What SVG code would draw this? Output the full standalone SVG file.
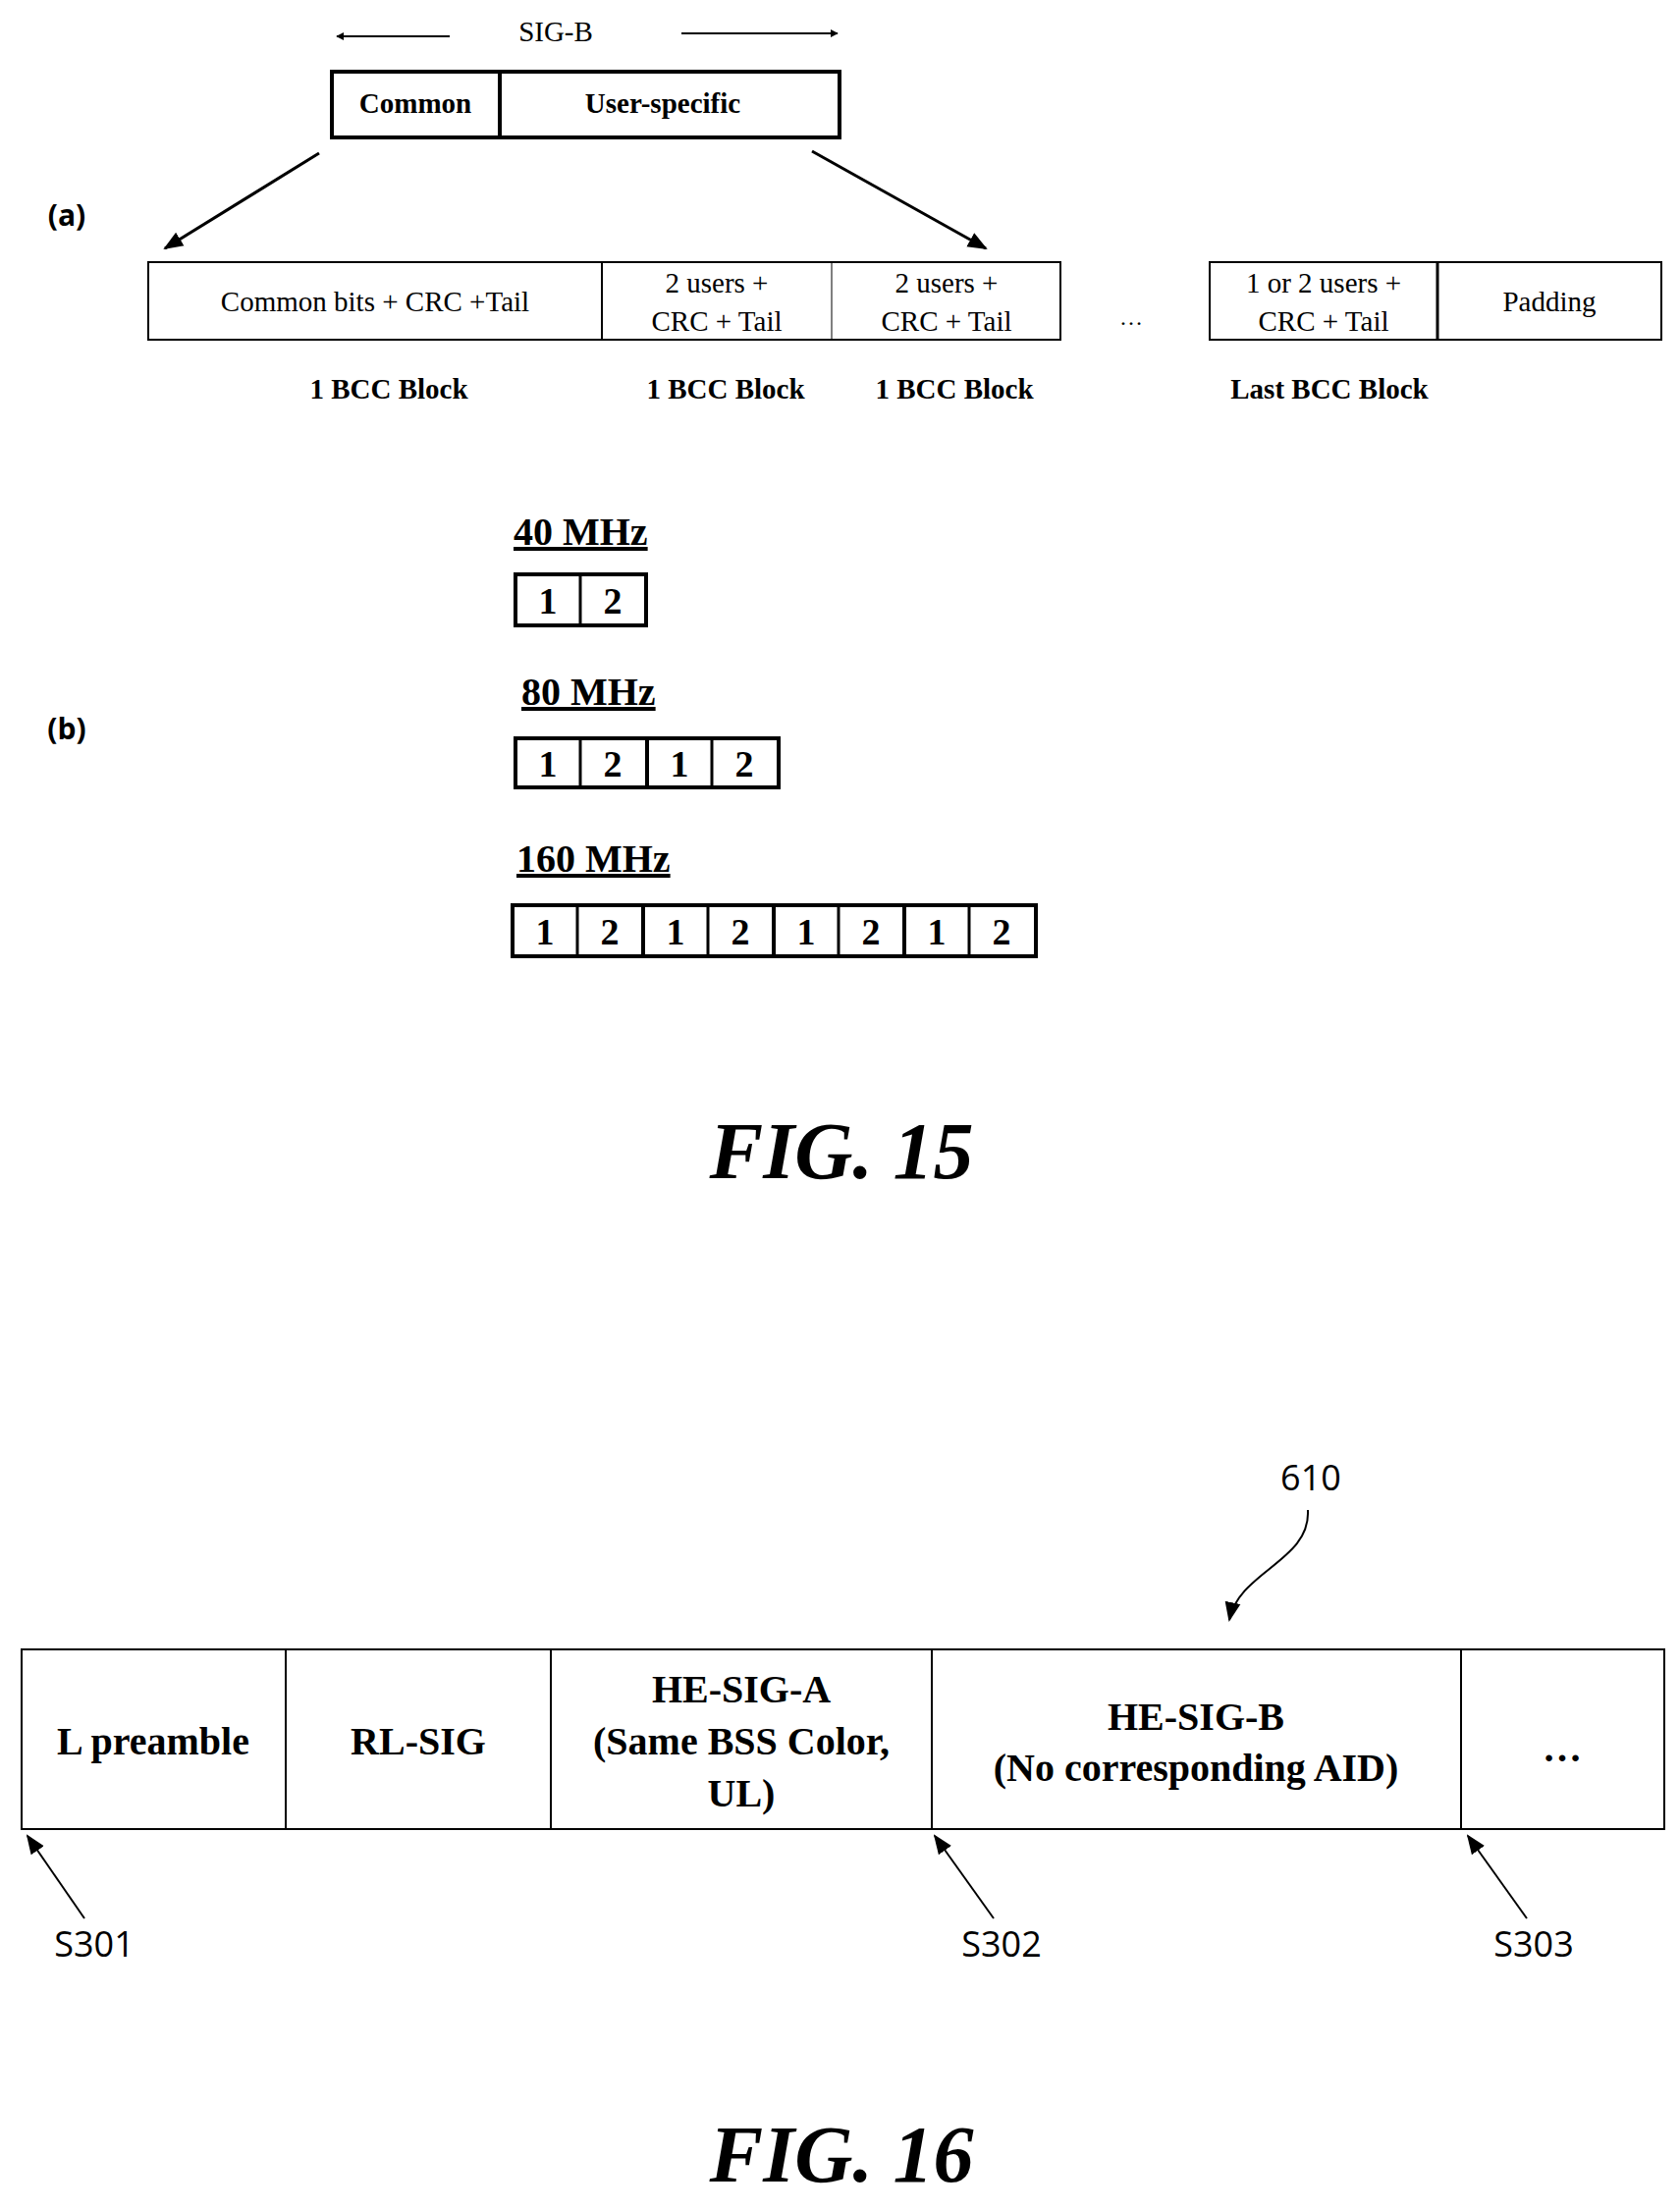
<svg xmlns="http://www.w3.org/2000/svg" width="1711" height="2251" viewBox="0 0 1711 2251">
<style>
.s{font-family:"Liberation Serif",serif;fill:#000}
.b{font-weight:bold}
.sa{font-family:"Open Sans","Liberation Sans",sans-serif;fill:#000}
rect{fill:#fff;stroke:#000}
.ln{stroke:#000;fill:none}
</style>
<defs>
<marker id="ah" viewBox="0 0 10 10" refX="9" refY="5" markerWidth="8" markerHeight="8" orient="auto" markerUnits="userSpaceOnUse"><path d="M0,0 L10,5 L0,10 z" fill="#000"/></marker>
<marker id="ah2" viewBox="0 0 10 10" refX="9" refY="5" markerWidth="20" markerHeight="20" orient="auto" markerUnits="userSpaceOnUse"><path d="M0,1 L10,5 L0,9 z" fill="#000"/></marker>
</defs>
<rect x="0" y="0" width="1711" height="2251" style="stroke:none"/>
<text class="s" x="566" y="42" font-size="29" text-anchor="middle">SIG-B</text>
<g id="connectors">
<line class="ln" x1="458" y1="37" x2="343" y2="37" stroke-width="2" marker-end="url(#ah)"/>
<line class="ln" x1="694" y1="34" x2="853" y2="34" stroke-width="2" marker-end="url(#ah)"/>
<line class="ln" x1="325" y1="156" x2="168" y2="253" stroke-width="3" marker-end="url(#ah2)"/>
<line class="ln" x1="827" y1="154" x2="1004" y2="253" stroke-width="3" marker-end="url(#ah2)"/>
<path class="ln" d="M1332,1538 C1335,1590 1262,1600 1252,1650" stroke-width="2" marker-end="url(#ah2)"/>
<line class="ln" x1="86" y1="1954" x2="28" y2="1870" stroke-width="2" marker-end="url(#ah2)"/>
<line class="ln" x1="1012" y1="1954" x2="952" y2="1870" stroke-width="2" marker-end="url(#ah2)"/>
<line class="ln" x1="1555" y1="1954" x2="1495" y2="1870" stroke-width="2" marker-end="url(#ah2)"/>
</g>
<g id="sigb">
<rect x="338" y="73" width="517" height="67" stroke-width="4"/>
<line class="ln" x1="509" y1="73" x2="509" y2="140" stroke-width="4"/>
<text class="s b" x="423" y="115" font-size="29" text-anchor="middle">Common</text>
<text class="s b" x="675" y="115" font-size="29" text-anchor="middle">User-specific</text>
</g>
<text class="sa b" x="68" y="230" font-size="30" text-anchor="middle">(a)</text>
<g id="row1">
<rect x="151" y="267" width="929" height="79" stroke-width="2"/>
<line class="ln" x1="613" y1="267" x2="613" y2="346" stroke-width="2"/>
<line class="ln" x1="847" y1="267" x2="847" y2="346" stroke-width="1"/>
<text class="s" x="382" y="317" font-size="29" text-anchor="middle">Common bits + CRC +Tail</text>
<text class="s" x="730" y="298" font-size="29" text-anchor="middle">2 users +</text>
<text class="s" x="730" y="337" font-size="29" text-anchor="middle">CRC + Tail</text>
<text class="s" x="964" y="298" font-size="29" text-anchor="middle">2 users +</text>
<text class="s" x="964" y="337" font-size="29" text-anchor="middle">CRC + Tail</text>
</g>
<text class="s" x="1152" y="331" font-size="24" text-anchor="middle">…</text>
<g id="row2">
<rect x="1232" y="267" width="460" height="79" stroke-width="2"/>
<line class="ln" x1="1464" y1="267" x2="1464" y2="346" stroke-width="3"/>
<text class="s" x="1348" y="298" font-size="29" text-anchor="middle">1 or 2 users +</text>
<text class="s" x="1348" y="337" font-size="29" text-anchor="middle">CRC + Tail</text>
<text class="s" x="1578" y="317" font-size="29" text-anchor="middle">Padding</text>
</g>
<g class="s b" font-size="29" text-anchor="middle">
<text x="396" y="406">1 BCC Block</text>
<text x="739" y="406">1 BCC Block</text>
<text x="972" y="406">1 BCC Block</text>
<text x="1354" y="406">Last BCC Block</text>
</g>
<text class="sa b" x="68" y="753" font-size="30" text-anchor="middle">(b)</text>
<g class="s b" font-size="40">
<text x="523" y="555" text-decoration="underline">40 MHz</text>
<text x="531" y="718" text-decoration="underline">80 MHz</text>
<text x="526" y="888" text-decoration="underline">160 MHz</text>
</g>
<g id="b40">
<rect x="525" y="585" width="133" height="52" stroke-width="4"/>
<line class="ln" x1="591" y1="585" x2="591" y2="637" stroke-width="3"/>
<text class="s b" x="558" y="625" font-size="38" text-anchor="middle">1</text>
<text class="s b" x="624" y="625" font-size="38" text-anchor="middle">2</text>
</g>
<g id="b80">
<rect x="525" y="752" width="268" height="50" stroke-width="4"/>
<line class="ln" x1="591" y1="752" x2="591" y2="802" stroke-width="3"/>
<line class="ln" x1="659" y1="752" x2="659" y2="802" stroke-width="4"/>
<line class="ln" x1="725" y1="752" x2="725" y2="802" stroke-width="3"/>
<g class="s b" font-size="38" text-anchor="middle">
<text x="558" y="791">1</text><text x="624" y="791">2</text><text x="692" y="791">1</text><text x="758" y="791">2</text>
</g>
</g>
<g id="b160">
<rect x="522" y="922" width="533" height="52" stroke-width="4"/>
<line class="ln" x1="588" y1="922" x2="588" y2="974" stroke-width="3"/>
<line class="ln" x1="655" y1="922" x2="655" y2="974" stroke-width="4"/>
<line class="ln" x1="721" y1="922" x2="721" y2="974" stroke-width="3"/>
<line class="ln" x1="788" y1="922" x2="788" y2="974" stroke-width="4"/>
<line class="ln" x1="854" y1="922" x2="854" y2="974" stroke-width="3"/>
<line class="ln" x1="921" y1="922" x2="921" y2="974" stroke-width="4"/>
<line class="ln" x1="987" y1="922" x2="987" y2="974" stroke-width="3"/>
<g class="s b" font-size="38" text-anchor="middle">
<text x="555" y="962">1</text><text x="621" y="962">2</text><text x="688" y="962">1</text><text x="754" y="962">2</text>
<text x="821" y="962">1</text><text x="887" y="962">2</text><text x="954" y="962">1</text><text x="1020" y="962">2</text>
</g>
</g>
<text class="s b" x="857" y="1200" font-size="82" font-style="italic" text-anchor="middle">FIG. 15</text>
<text class="sa" x="1335" y="1518" font-size="36" text-anchor="middle">610</text>
<g id="frame16">
<rect x="22" y="1680" width="1673" height="183" stroke-width="2"/>
<line class="ln" x1="291" y1="1680" x2="291" y2="1863" stroke-width="2"/>
<line class="ln" x1="561" y1="1680" x2="561" y2="1863" stroke-width="2"/>
<line class="ln" x1="949" y1="1680" x2="949" y2="1863" stroke-width="2"/>
<line class="ln" x1="1488" y1="1680" x2="1488" y2="1863" stroke-width="2"/>
<g class="s b" font-size="40" text-anchor="middle">
<text x="156" y="1787">L preamble</text>
<text x="426" y="1787">RL-SIG</text>
<text x="755" y="1734">HE-SIG-A</text>
<text x="755" y="1787">(Same BSS Color,</text>
<text x="755" y="1840">UL)</text>
<text x="1218" y="1762">HE-SIG-B</text>
<text x="1218" y="1814">(No corresponding AID)</text>
<text x="1591" y="1794">…</text>
</g>
</g>
<g class="sa" font-size="36" text-anchor="middle">
<text x="96" y="1993">S301</text>
<text x="1020" y="1993">S302</text>
<text x="1562" y="1993">S303</text>
</g>
<text class="s b" x="857" y="2222" font-size="82" font-style="italic" text-anchor="middle">FIG. 16</text>
</svg>
